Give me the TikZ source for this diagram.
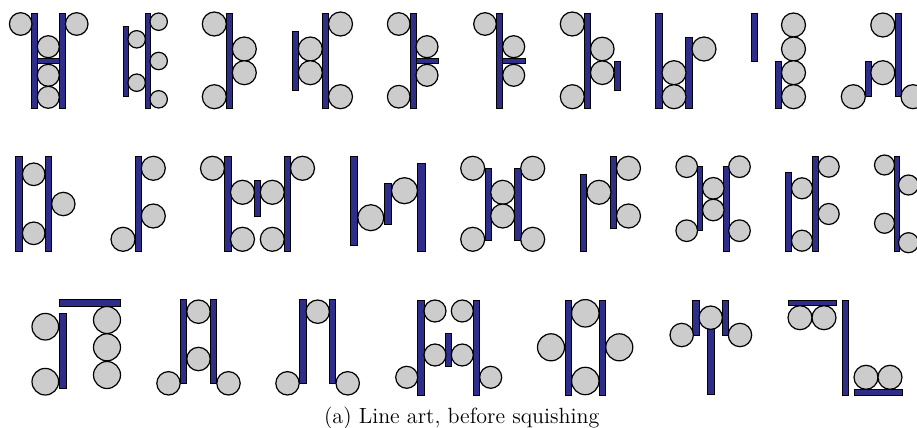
\documentclass[tikz,border=0pt]{standalone}
\begin{document}
\begin{tikzpicture}[x=0.5pt,y=-0.5pt,
  barst/.style={fill=barblue,draw=black,line width=0.45pt},
  ballst/.style={fill=ballgray,draw=black,line width=0.6pt}]
\definecolor{barblue}{RGB}{46,46,138}
\definecolor{ballgray}{RGB}{204,204,204}
\useasboundingbox (0,0) rectangle (917,428);
\newcommand\Bx[4]{\filldraw[barst] (#1,#2) rectangle (#3,#4);}
\newcommand\Ci[3]{\filldraw[ballst] (#1,#2) circle[radius=#3];}
% ---------- row 1 ----------
% fig 1
\Bx{31.7}{13.3}{37.3}{108.3}\Bx{59.3}{13.3}{65.3}{108.3}\Bx{37.3}{58.3}{59.3}{63.3}
\Ci{20.7}{24}{11.3}\Ci{76.7}{24}{11.3}
\Ci{48.3}{46.7}{11}\Ci{48.3}{75.3}{11}\Ci{48.3}{97.3}{11}
% fig 2
\Bx{123.3}{26}{128.3}{96}\Bx{145}{13.3}{150}{108.3}
\Ci{158.7}{21.7}{8.7}\Ci{158.7}{61}{8.7}\Ci{158.7}{99.3}{8.7}
\Ci{136.7}{39.3}{8.7}\Ci{136.7}{82.7}{8.7}
% fig 3
\Bx{226.7}{13.3}{232.3}{108.3}
\Ci{214.3}{24}{12}\Ci{214.3}{96.7}{12}
\Ci{244.3}{49}{12}\Ci{244.3}{72.7}{12}
% fig 4
\Bx{292.3}{31}{298.3}{90.7}\Bx{322.3}{13.3}{328.3}{108.3}
\Ci{310.3}{49}{12}\Ci{310.3}{72.7}{12}
\Ci{340.5}{24}{12}\Ci{340.5}{96.7}{12}
% fig 5
\Bx{410}{13.3}{416}{108.3}\Bx{416}{58.3}{438.3}{63.3}
\Ci{398.7}{24}{11.3}\Ci{398.7}{96.7}{11.3}
\Ci{427}{46.7}{11}\Ci{427}{75.3}{11}
% fig 6
\Bx{496.7}{13.3}{502.7}{108.3}\Bx{502.7}{58.3}{525}{63.3}
\Ci{485}{24}{11.3}
\Ci{513.7}{46.7}{11}\Ci{513.7}{75.3}{11}
% fig 7
\Bx{584.3}{13.3}{590.3}{108.3}\Bx{614.3}{61}{620.7}{90.7}
\Ci{572.3}{24}{12}\Ci{572.3}{96.7}{12}
\Ci{602.3}{49}{11.8}\Ci{602.3}{72.7}{11.8}
% fig 8
\Bx{655.7}{13.3}{662.3}{108.3}\Bx{685.7}{37.3}{692.3}{108.3}
\Ci{674}{72.7}{12}\Ci{674}{96.7}{12}\Ci{704}{49}{12}
% fig 9
\Bx{751.7}{13.3}{757.7}{61}\Bx{775.7}{61}{781.7}{108.3}
\Ci{793.5}{25}{12}\Ci{793.5}{49}{12}\Ci{793.5}{72.7}{12}\Ci{793.5}{96.7}{12}
% fig 10
\Bx{865}{61}{871}{96.7}\Bx{895}{13.3}{901}{96.7}
\Ci{853.3}{96.7}{12}\Ci{882.8}{72.7}{12}\Ci{882.8}{25}{12}\Ci{913}{96.7}{12}
% ---------- row 2 ----------
% fig 11
\Bx{15.7}{156.7}{22}{251}\Bx{45.3}{156.7}{51.7}{251}
\Ci{33.7}{174.3}{11.3}\Ci{33.7}{233.3}{11.3}\Ci{63.3}{204}{11.7}
% fig 12
\Bx{135}{156.7}{141.3}{251}
\Ci{153.3}{168.3}{12}\Ci{153.3}{216}{12}\Ci{123}{239.3}{12}
% fig 13
\Bx{224.3}{156.7}{231}{251}\Bx{254}{180}{260.3}{216}\Bx{284.3}{156.7}{290.7}{251}
\Ci{212.5}{168.3}{12}\Ci{242.5}{192.3}{12}\Ci{242.5}{239.3}{12}
\Ci{272.3}{192.3}{12}\Ci{272.3}{239.3}{12}\Ci{302.5}{168.3}{12}
% fig 14
\Bx{350}{156.7}{357.7}{245}\Bx{384}{183.3}{391.7}{224.3}\Bx{417.7}{163.3}{425}{251.7}
\Ci{370.8}{217.7}{13}\Ci{404.5}{190.7}{13}
% fig 15
\Bx{485}{168.3}{491}{240}\Bx{514.5}{168.3}{521}{240}
\Ci{472.7}{168.3}{12}\Ci{532.7}{168.3}{12}
\Ci{502.7}{192.3}{12}\Ci{502.7}{216}{12}
\Ci{472.7}{239.3}{12}\Ci{532.7}{239.3}{12}
% fig 16
\Bx{580}{174.3}{586.7}{251.7}\Bx{610}{156}{616.7}{228.3}
\Ci{599}{192.3}{12}\Ci{628.5}{168.3}{12}\Ci{628.5}{216}{12}
% fig 17
\Bx{697.3}{166.7}{702.7}{230.7}\Bx{723.3}{166.7}{729.3}{251.7}
\Ci{686.7}{166.7}{10.8}\Ci{739.5}{166.7}{10.8}
\Ci{713.3}{188.3}{10.8}\Ci{713.3}{210}{10.8}
\Ci{686.7}{230.7}{10.8}\Ci{739.5}{230.7}{10.8}
% fig 18
\Bx{785.7}{172.3}{791.7}{251.7}\Bx{812.3}{156}{818.3}{251.7}
\Ci{802}{188.3}{10.5}\Ci{802}{240.7}{10.5}
\Ci{828.7}{166.7}{10.5}\Ci{828.7}{214}{10.5}
% fig 19
\Bx{894}{156}{899.3}{251.7}
\Ci{884.5}{165}{10}\Ci{884.5}{223.3}{10}
\Ci{908.5}{185}{10}\Ci{908.5}{242.7}{10}
% ---------- row 3 ----------
% fig 20
\Bx{59.3}{299.3}{120.7}{306.7}\Bx{59.3}{313.3}{66}{388.3}
\Ci{45.3}{326.7}{13.3}\Ci{45.3}{381.7}{13.3}
\Ci{107}{320}{13.5}\Ci{107}{347.3}{13.5}\Ci{107}{375}{13.5}
% fig 21
\Bx{180.7}{299.3}{186.7}{383.3}\Bx{210.3}{299.3}{216.7}{383.3}
\Ci{198.5}{311.7}{11.7}\Ci{198.5}{359}{11.7}
\Ci{168.5}{383.3}{11.7}\Ci{228.5}{383.3}{11.7}
% fig 22
\Bx{299.3}{299.3}{306}{383.3}\Bx{329.3}{299.3}{335.7}{383.3}
\Ci{287.5}{383.3}{11.7}\Ci{317.7}{311.7}{11.7}\Ci{347.7}{383.3}{11.7}
% fig 23
\Bx{417.7}{300}{424}{395}\Bx{445.7}{333.3}{451.7}{366.7}\Bx{473.3}{300}{479.3}{395}
\Ci{435}{311}{11}\Ci{462.3}{311}{11}\Ci{435}{355}{11}\Ci{462.3}{355}{11}
\Ci{406.7}{377.3}{11}\Ci{490.7}{377.3}{11}
% fig 24
\Bx{565}{300}{571.7}{395}\Bx{599}{300}{605.7}{395}
\Ci{551}{347.3}{13.5}\Ci{585.3}{313.3}{13.7}\Ci{585.3}{381}{13.7}\Ci{619.3}{347.3}{13.5}
% fig 25
\Bx{692.7}{300}{699}{335.7}\Bx{707.3}{328.3}{714}{394.3}\Bx{722.3}{300}{728.7}{335.7}
\Ci{681.7}{335}{11.7}\Ci{710.7}{317.7}{11.7}\Ci{740}{335}{11.7}
% fig 26
\Bx{788.3}{300}{836.7}{305.7}\Bx{842.3}{300}{848.3}{395}\Bx{854}{389.3}{902.3}{395.7}
\Ci{800}{317.7}{12}\Ci{824}{317.7}{12}\Ci{866}{377.3}{12}\Ci{890}{377.3}{12}
% caption
\node[anchor=base,inner sep=0pt,font=\fontsize{11}{13}\selectfont] (cap) at (461.7,423.3) {(a) Line art, before squishing};
\end{tikzpicture}
\end{document}
